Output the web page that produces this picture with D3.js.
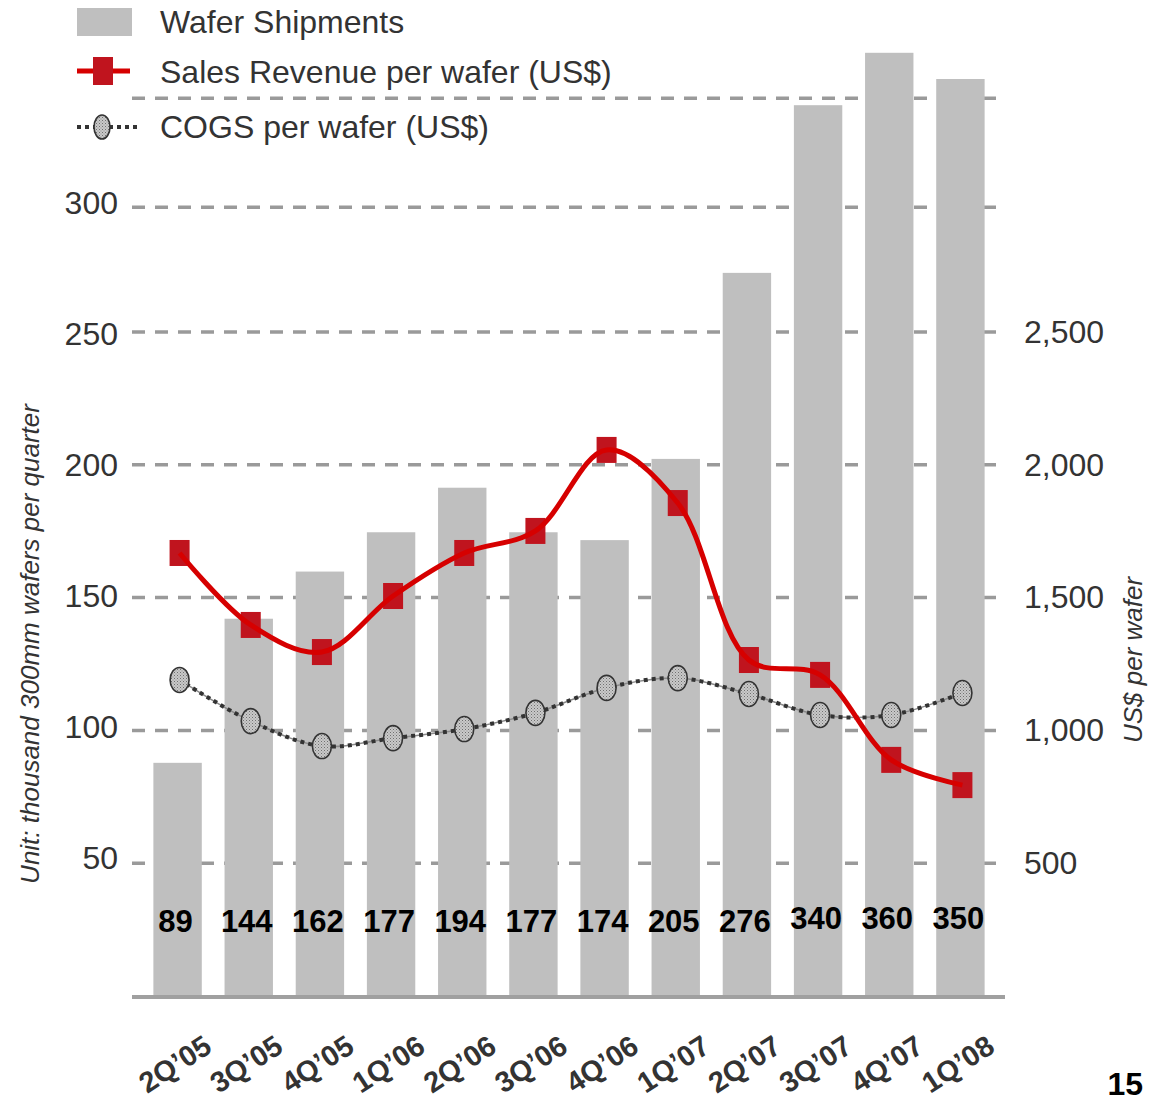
<!DOCTYPE html>
<html lang="en">
<head>
<meta charset="utf-8">
<title>Wafer shipments</title>
<script src="https://cdn.jsdelivr.net/npm/d3@7"></script>
<style>
  body { margin: 0; background: #fff; }
  svg text { font-family: "Liberation Sans", Arial, sans-serif; }
</style>
</head>
<body>
<svg id="chart" width="1160" height="1101"></svg>
<script>

var quarters = ["2Q\u201905", "3Q\u201905", "4Q\u201905", "1Q\u201906", "2Q\u201906", "3Q\u201906",
                "4Q\u201906", "1Q\u201907", "2Q\u201907", "3Q\u201907", "4Q\u201907", "1Q\u201908"];
var shipments = [89, 144, 162, 177, 194, 177, 174, 205, 276, 340, 360, 350];
var revenue = [1668, 1397, 1295, 1506, 1668, 1751, 2056, 1856, 1265, 1209, 889, 794];
var cogs = [1190, 1035, 941, 971, 1005, 1066, 1160, 1197, 1137, 1058, 1058, 1141];
var leftTicks = [50, 100, 150, 200, 250, 300];
var rightTicks = [500, 1000, 1500, 2000, 2500];
// gridlines as they sit in the original (the top two are not evenly spaced there)
var gridTicks = [500, 1000, 1500, 2000, 2500, 2970, 3380];

var svg = d3.select("#chart");
var baseY = 996;

var x = d3.scaleBand()
    .domain(quarters)
    .range([142, 996])
    .paddingInner(0.32)
    .paddingOuter(0.16);

var yL = d3.scaleLinear().domain([0, 300]).range([baseY, 210]);
var yR = d3.scaleLinear().domain([0, 2500]).range([baseY, 332]);

function cx(q) { return x(q) + x.bandwidth() / 2; }

// stipple for the COGS markers
var defs = svg.append("defs");
var pat = defs.append("pattern")
    .attr("id", "stip")
    .attr("width", 3).attr("height", 3)
    .attr("patternUnits", "userSpaceOnUse");
pat.append("rect").attr("width", 3).attr("height", 3).attr("fill", "#c9c9c9");
pat.append("rect").attr("width", 1).attr("height", 1).attr("fill", "#707070");
pat.append("rect").attr("x", 1.5).attr("y", 1.5).attr("width", 1).attr("height", 1).attr("fill", "#909090");

// gridlines
svg.append("g").selectAll("line")
  .data(gridTicks)
  .enter().append("line")
    .attr("x1", 132).attr("x2", 1000)
    .attr("y1", function(d) { return yR(d); })
    .attr("y2", function(d) { return yR(d); })
    .attr("stroke", "#9a9a9a")
    .attr("stroke-width", 3.5)
    .attr("stroke-dasharray", "13,10");

// bars
svg.append("g").selectAll("rect")
  .data(shipments)
  .enter().append("rect")
    .attr("x", function(d, i) { return x(quarters[i]); })
    .attr("y", function(d) { return yL(d); })
    .attr("width", x.bandwidth())
    .attr("height", function(d) { return baseY - yL(d); })
    .attr("fill", "#bfbfbf");

// baseline
svg.append("line")
    .attr("x1", 132).attr("x2", 1005)
    .attr("y1", baseY + 1).attr("y2", baseY + 1)
    .attr("stroke", "#a0a0a0")
    .attr("stroke-width", 4);

// bar value labels
svg.append("g").selectAll("text")
  .data(shipments)
  .enter().append("text")
    .attr("x", function(d, i) { return cx(quarters[i]) - 2; })
    .attr("y", function(d) { return d >= 300 ? 929 : 932; })
    .attr("text-anchor", "middle")
    .attr("font-size", 31)
    .attr("font-weight", "bold")
    .attr("fill", "#000")
    .text(function(d) { return d; });

// left axis
var axL = svg.append("g")
    .attr("transform", "translate(118,-7)")
    .call(d3.axisLeft(yL).tickValues(leftTicks).tickSize(0).tickPadding(0));
axL.select(".domain").remove();
axL.selectAll("text")
    .attr("font-size", 32)
    .attr("fill", "#333")
    .style("font-family", "Liberation Sans, Arial, sans-serif");

// right axis
var axR = svg.append("g")
    .attr("transform", "translate(1024,0)")
    .call(d3.axisRight(yR).tickValues(rightTicks).tickSize(0).tickPadding(0).tickFormat(d3.format(",")));
axR.select(".domain").remove();
axR.selectAll("text")
    .attr("font-size", 32)
    .attr("fill", "#333")
    .style("font-family", "Liberation Sans, Arial, sans-serif");

// x labels
svg.append("g").selectAll("text")
  .data(quarters)
  .enter().append("text")
    .attr("transform", function(d) { return "translate(" + (cx(d) + 36) + ",1051) rotate(-33)"; })
    .attr("text-anchor", "end")
    .attr("font-size", 29)
    .attr("font-weight", "bold")
    .attr("fill", "#333")
    .text(function(d) { return d; });

// axis titles
svg.append("text")
    .attr("transform", "translate(39,644) rotate(-90)")
    .attr("text-anchor", "middle")
    .attr("font-size", 26)
    .attr("font-style", "italic")
    .attr("fill", "#333")
    .text("Unit: thousand 300mm wafers per quarter");

svg.append("text")
    .attr("transform", "translate(1142,660) rotate(-90)")
    .attr("text-anchor", "middle")
    .attr("font-size", 26)
    .attr("font-style", "italic")
    .attr("fill", "#333")
    .text("US$ per wafer");

// COGS line
var cogsLine = d3.line()
    .x(function(d, i) { return cx(quarters[i]) + 2; })
    .y(function(d) { return yR(d); })
    .curve(d3.curveCatmullRom.alpha(0.5));

svg.append("path")
    .datum(cogs)
    .attr("d", cogsLine)
    .attr("fill", "none")
    .attr("stroke", "#8a8a8a")
    .attr("stroke-width", 1.5);
svg.append("path")
    .datum(cogs)
    .attr("d", cogsLine)
    .attr("fill", "none")
    .attr("stroke", "#333")
    .attr("stroke-width", 4)
    .attr("stroke-dasharray", "4,4");

svg.append("g").selectAll("ellipse")
  .data(cogs)
  .enter().append("ellipse")
    .attr("cx", function(d, i) { return cx(quarters[i]) + 2; })
    .attr("cy", function(d) { return yR(d); })
    .attr("rx", 9.5).attr("ry", 12.5)
    .attr("fill", "url(#stip)")
    .attr("stroke", "#333")
    .attr("stroke-width", 1.6);

// revenue line
var revLine = d3.line()
    .x(function(d, i) { return cx(quarters[i]) + 2; })
    .y(function(d) { return yR(d); })
    .curve(d3.curveCatmullRom.alpha(0.5));

svg.append("g").selectAll("rect")
  .data(revenue)
  .enter().append("rect")
    .attr("x", function(d, i) { return cx(quarters[i]) + 2 - 10; })
    .attr("y", function(d) { return yR(d) - 13; })
    .attr("width", 20).attr("height", 26)
    .attr("fill", "#c0141e");

svg.append("path")
    .datum(revenue)
    .attr("d", revLine)
    .attr("fill", "none")
    .attr("stroke", "#d60000")
    .attr("stroke-width", 5);

// legend
var lg = svg.append("g");
lg.append("rect")
    .attr("x", 77).attr("y", 8).attr("width", 55).attr("height", 28)
    .attr("fill", "#bfbfbf");
lg.append("text").attr("x", 160).attr("y", 33).text("Wafer Shipments");

lg.append("line")
    .attr("x1", 77).attr("x2", 130).attr("y1", 71).attr("y2", 71)
    .attr("stroke", "#d60000").attr("stroke-width", 5);
lg.append("rect")
    .attr("x", 93).attr("y", 57).attr("width", 20).attr("height", 28)
    .attr("fill", "#c0141e");
lg.append("text").attr("x", 160).attr("y", 83).text("Sales Revenue per wafer (US$)");

lg.append("line")
    .attr("x1", 77).attr("x2", 140).attr("y1", 127).attr("y2", 127)
    .attr("stroke", "#333").attr("stroke-width", 4).attr("stroke-dasharray", "4,4");
lg.append("ellipse")
    .attr("cx", 102).attr("cy", 127).attr("rx", 8).attr("ry", 12)
    .attr("fill", "url(#stip)").attr("stroke", "#333").attr("stroke-width", 1.6);
lg.append("text").attr("x", 160).attr("y", 138).text("COGS per wafer (US$)");

lg.selectAll("text")
    .attr("font-size", 32)
    .attr("fill", "#333");

// page number
svg.append("text")
    .attr("x", 1143).attr("y", 1095)
    .attr("text-anchor", "end")
    .attr("font-size", 32)
    .attr("font-weight", "bold")
    .attr("fill", "#000")
    .text("15");

</script>
</body>
</html>
